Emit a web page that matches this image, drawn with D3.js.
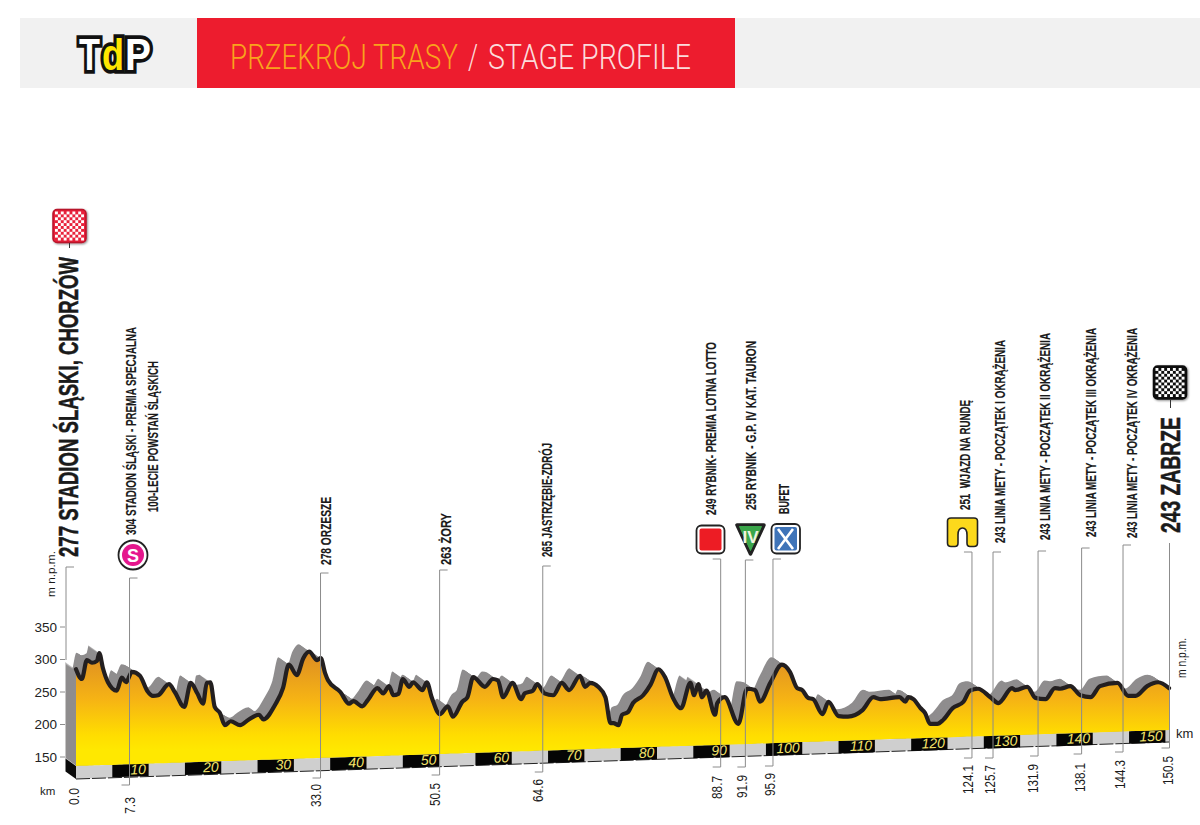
<!DOCTYPE html>
<html><head><meta charset="utf-8">
<script src="https://cdn.jsdelivr.net/npm/d3@7"></script>
<style>html,body{margin:0;padding:0;background:#fff}svg{display:block}</style>
</head><body><div id="c"></div>
<script>
const routeKm=[0,.8,1.5,2.2,2.9,3.2,3.7,4.4,5.6,6.3,6.9,7.7,8.8,9.8,10.6,11.3,12.8,13.6,14.9,15.8,16.7,17.5,18.0,18.5,19.1,19.8,20.5,21.3,22.6,23.7,25.2,25.8,27.4,28.5,29.3,30.4,31.3,32.1,33.2,33.7,34.3,
34.7,36.4,37.6,38.2,39.4,40.2,41.5,42.3,43.1,43.7,44.4,45.0,45.9,46.4,47.7,48.3,49.0,50.1,51.2,51.9,53.2,53.9,54.7,56.3,57.4,58.1,58.8,60.1,61.3,61.8,62.9,63.5,64.5,65.7,66.9,67.9,69.4,70.1,70.8,71.9,72.9,73.6,74.0,74.7,
75.2,76.0,76.7,78.1,79.1,80.2,81.1,82.2,83.3,84.6,85.1,85.7,86.2,86.8,88.0,88.3,89.3,91.2,92.4,93.5,94.2,95.6,97.2,98.3,99.3,100.0,100.8,101.5,102.8,103.6,105.0,106.3,108.3,109.8,110.7,113.4,
114.2,114.6,115.3,116.3,116.9,117.6,118.6,119.4,120.7,122.2,123.1,124.2,125.9,127.0,128.9,129.3,131.0,132.1,133.5,134.8,135.5,136.9,138.3,139.7,141.0,143.4,144.9,145.9,147.5,149.0,150.5];
const routeElevation=[285,270,299,295,298,310,287,265,252,272,265,281,275,252,244,245,262,250,227,264,248,232,264,265,227,218,199,205,199,207,215,208,230,256,292,276,302,312,299,302,279,
268,250,232,236,228,238,256,248,259,245,247,270,258,265,253,265,241,216,228,212,235,242,273,258,270,268,242,264,239,248,252,262,248,245,264,253,275,258,264,258,242,202,202,199,
215,219,233,245,261,285,273,241,225,264,245,262,242,252,215,233,242,201,255,253,235,264,292,281,256,253,241,239,216,235,213,212,222,242,239,242,
235,242,239,225,218,201,201,207,225,235,252,255,242,233,256,253,258,241,239,256,255,259,245,242,259,264,244,244,259,265,256];
const elevationTicks=[350,300,250,200,150];
const kmBoxes=[10,20,30,40,50,60,70,80,90,100,110,120,130,140,150];
const pointKmLabels=["0.0","7.3","33.0","50.5","64.6","88.7","91.9","95.9","124.1","125.7","131.9","138.1","144.3","150.5"];
const pointKmDrawn=[0,7.3,33.6,50,64.2,88.7,92.1,95.9,123.3,126.2,132.4,138.4,144.1,150.5];
const pointNames=["277 STADION ŚLĄSKI, CHORZÓW","304 STADION ŚLĄSKI - PREMIA SPECJALNA","278 ORZESZE","263 ŻORY","265 JASTRZĘBIE-ZDRÓJ","249 RYBNIK- PREMIA LOTNA LOTTO","255 RYBNIK - G.P. IV KAT. TAURON","BUFET","251  WJAZD NA RUNDĘ","243 LINIA METY - POCZĄTEK I OKRĄŻENIA","243 LINIA METY - POCZĄTEK II OKRĄŻENIA","243 LINIA METY - POCZĄTEK III OKRĄŻENIA","243 LINIA METY - POCZĄTEK IV OKRĄŻENIA","243 ZABRZE"];

// ---- layout (not data) ----
const W=1200,H=825;
const svg=d3.select("#c").append("svg").attr("width",W).attr("height",H).attr("viewBox",`0 0 ${W} ${H}`);
const x=d3.scaleLinear().domain([0,150.5]).range([76,1169]);
const y=d3.scaleLinear().domain([150,350]).range([757,627]);
const floor=d3.scaleLinear().domain([0,150.5]).range([766,730]);
const depthX=-10.5,depthY=-7.5,stripH=13;
const narrow="'Liberation Sans Narrow','Liberation Sans',sans-serif";
const sans="'Liberation Sans',Arial,sans-serif";
const route=routeKm.map((k,i)=>({k,e:routeElevation[i]}));

const defs=svg.append("defs");
const grad=defs.append("linearGradient").attr("id","fillG").attr("gradientUnits","userSpaceOnUse").attr("x1",0).attr("x2",0).attr("y1",650).attr("y2",750);
[[0,"#dc8a24"],[.5,"#f6b414"],[.85,"#ffdd00"],[1,"#ffe800"]].forEach(s=>grad.append("stop").attr("offset",s[0]).attr("stop-color",s[1]));
const blur=defs.append("filter").attr("id","sh").attr("x","-20%").attr("y","-20%").attr("width","140%").attr("height","140%");
blur.append("feDropShadow").attr("dx",1).attr("dy",1).attr("stdDeviation",1.2).attr("flood-color","#000").attr("flood-opacity",.45);

// header
svg.append("rect").attr("x",20).attr("y",18).attr("width",1180).attr("height",70).attr("fill","#f1f1f1");
svg.append("rect").attr("x",197).attr("y",18).attr("width",538).attr("height",70).attr("fill","#ed1c2e");
// text squeezed horizontally to a target width
function fit(t,xx,yy,target,attrs){
  const n=svg.append("text").text(t);
  Object.entries(attrs).forEach(([k,v])=>n.attr(k,v));
  const len=n.node().getComputedTextLength();
  n.attr("transform",`translate(${xx},${yy}) scale(${target/len},1)`);
  return n;
}
const hdrStyle={"font-family":"Roboto,sans-serif","font-weight":300,"font-size":35};
fit("PRZEKRÓJ TRASY",230,69,228,{...hdrStyle,fill:"#f9a31c"});
fit("/",468,69,10,{...hdrStyle,fill:"#fbdcdc"});
fit("STAGE PROFILE",488,69,203,{...hdrStyle,fill:"#fbdcdc"});
const logoStyle={"font-family":sans,"font-weight":700,"font-size":44,stroke:"#111","stroke-width":7.5,"stroke-linejoin":"miter","paint-order":"stroke"};
fit("T",79,70,21,{...logoStyle,fill:"#fff"});
fit("d",102,70,22,{...logoStyle,fill:"#ffe600"});
fit("P",125,70,26,{...logoStyle,fill:"#fff"});

// extruded rear of the profile
const curve=d3.curveMonotoneX;
const areaGen=d3.area().x(d=>x(d.k)).y0(d=>floor(d.k)).y1(d=>y(d.e)).curve(curve);
d3.range(0,1.01,.1).forEach(t=>{
  svg.append("path").datum(route).attr("d",areaGen).attr("fill","#8f8d8e")
    .attr("transform",`translate(${depthX*(1-t)},${depthY*(1-t)})`);
});
// left side of the floor strip
const x0=x(0),fl0=floor(0);
svg.append("path").attr("d",d3.line()([[x0+depthX,fl0+depthY],[x0,fl0],[x0,fl0+stripH],[x0+depthX,fl0+stripH+depthY]])+"Z").attr("fill","#0b0b0b");
// strip
const stripKm=[0,150.5];
svg.append("path").attr("d",d3.line()([[x(0),floor(0)],[x(150.5),floor(150.5)],[x(150.5),floor(150.5)+stripH-1],[x(0),floor(0)+stripH]])+"Z").attr("fill","#cfcfcf");
svg.append("path").attr("d",d3.line()(stripKm.map(k=>[x(k),floor(k)+stripH-(k?1:0)]))).attr("stroke","#222").attr("stroke-width",1).attr("stroke-dasharray","14 2").attr("fill","none");
kmBoxes.forEach(k=>{
  const a=k-5,b=k;
  svg.append("path").attr("d",d3.line()([[x(a),floor(a)],[x(b),floor(b)],[x(b),floor(b)+12.5],[x(a),floor(a)+12.5]])+"Z").attr("fill","#050505");
  svg.append("text").attr("transform",`translate(${x(b)-2.5},${floor(b)+10.5}) rotate(-1.9)`).attr("text-anchor","end")
    .attr("font-family",narrow).attr("font-style","italic").attr("font-size",14).attr("fill","#f4e36a").text(k);
});
// front
svg.append("path").datum(route).attr("d",areaGen).attr("fill","url(#fillG)");
svg.append("path").datum(route).attr("d",d3.line().x(d=>x(d.k)).y(d=>y(d.e)).curve(curve))
  .attr("fill","none").attr("stroke","#231f20").attr("stroke-width",4.2).attr("stroke-linejoin","round").attr("stroke-linecap","round");

// leaders
const leaderTop=[567,578,573,570,566,559,560,559,552,552,551,548,545,543];
const leaderBottom=[660,785,778,775,772,767,767,766,758,758,756,754,752,748];
const hookTop=[8,8,8,8,8,-8,8,8,-8,8,8,8,8,0];
pointKmDrawn.forEach((k,i)=>{
  const lx=(i==0?x(0)+depthX:x(k))+.5;
  const pts=[];
  if(hookTop[i]) pts.push([lx+hookTop[i],leaderTop[i]]);
  pts.push([lx,leaderTop[i]],[lx,leaderBottom[i]]);
  if(i>0) pts.push([lx-8,leaderBottom[i]]);
  svg.append("path").attr("d",d3.line()(pts)).attr("fill","none").attr("stroke","#8c8c8c").attr("stroke-width",1);
});
// y axis
elevationTicks.forEach(t=>{
  svg.append("path").attr("d",d3.line()([[60,y(t)],[65,y(t)]])).attr("stroke","#8c8c8c");
  svg.append("text").attr("x",57).attr("y",y(t)+4.5).attr("text-anchor","end").attr("font-family",sans).attr("font-size",13.5).attr("fill","#222").text(t);
});
const rot=(t,cx,bottom,len,size,weight,fam,sw)=>svg.append("text")
  .attr("transform",`translate(${cx},${bottom}) rotate(-90)`).attr("dy",".35em").attr("font-family",fam||narrow)
  .attr("font-size",size).attr("font-weight",weight||400).attr("fill","#1a1a1a")
  .attr("stroke",sw?"#1a1a1a":"none").attr("stroke-width",sw||0)
  .attr("textLength",len).attr("lengthAdjust","spacingAndGlyphs").attr("xml:space","preserve").text(t);
rot("m n.p.m.",51,597,46,11.5,400,sans);
rot("m n.p.m.",1182,678,40,12,400,sans);
svg.append("text").attr("x",40).attr("y",795).attr("font-family",sans).attr("font-size",11.5).attr("fill","#222").text("km");
svg.append("text").attr("x",1176).attr("y",738).attr("font-family",sans).attr("font-size",13).attr("fill","#222").text("km");

// km labels
const kmLabelX=[74,130,316,435,538,717,742,770,968,990,1033,1080,1120,1168];
const kmLabelBottom=[805,814,807,806,802,799,798,796,794,794,793,792,789,785];
pointKmLabels.forEach((t,i)=>rot(t,kmLabelX[i],kmLabelBottom[i],t.length>4?29:(t.length>3?23:17),14,400,narrow));

// place names
const nameX=[69,131,326,446,547,711,751,784,965,1000,1045,1091,1132,1171];
const nameBottom=[557,535,565,565,557,515,510,514,510,543,540,537,538,533];
const nameLen=[300,208,68,52,114,173,169,30,110,203,207,209,210,116];
const nameSize=[27,15.5,15.5,15.5,15.5,15.5,15.5,15.5,15.5,15.5,15.5,15.5,15.5,27];
pointNames.forEach((t,i)=>rot(t,nameX[i],nameBottom[i],nameLen[i],nameSize[i],700,narrow,nameSize[i]>20?.5:.15));
rot("100-LECIE POWSTAŃ ŚLĄSKICH",153,512,151,15.5,700,narrow,.15);

// icons
function checker(xx,yy,s,c1,c2,border){
  const g=svg.append("g");
  g.append("rect").attr("x",xx).attr("y",yy).attr("width",s).attr("height",s).attr("rx",4).attr("fill",c2).attr("stroke",border).attr("stroke-width",1.5).attr("filter","url(#sh)");
  const n=10,c=(s-4)/n;
  d3.range(n).forEach(a=>d3.range(n).forEach(b=>{ if((a+b)%2==0)
    g.append("rect").attr("x",xx+2+a*c).attr("y",yy+2+b*c).attr("width",c).attr("height",c).attr("fill",c1);}));
}
checker(53,209.5,33,"#fff","#e8203a","#b8142a");
checker(1153.5,366,33,"#fff","#111","#111");
svg.append("path").attr("d","M69.5 243V248M1170.5 399V408").attr("stroke","#333");
// S
svg.append("circle").attr("cx",133).attr("cy",555).attr("r",14.5).attr("fill","#fff").attr("stroke","#222").attr("stroke-width",1.8);
svg.append("circle").attr("cx",133).attr("cy",555).attr("r",11).attr("fill","#e5178d");
svg.append("text").attr("x",133).attr("y",561.5).attr("text-anchor","middle").attr("font-family",sans).attr("font-weight",700).attr("font-size",18).attr("fill","#fff").text("S");
// red square
svg.append("rect").attr("x",696.5).attr("y",525.5).attr("width",28).attr("height",28).attr("rx",5).attr("fill","#fff").attr("stroke","#222").attr("stroke-width",1.8);
svg.append("rect").attr("x",699.5).attr("y",528.5).attr("width",22).attr("height",22).attr("rx",2).attr("fill","#ed1c24");
// green triangle
svg.append("path").attr("d","M737 525H764L750.5 554Z").attr("fill","#fff").attr("stroke","#222").attr("stroke-width",3.5).attr("stroke-linejoin","round");
svg.append("path").attr("d","M739.5 526.5H761.5L750.5 550.5Z").attr("fill","#3aa64a").attr("stroke","#3aa64a").attr("stroke-linejoin","round");
svg.append("text").attr("x",750.5).attr("y",543).attr("text-anchor","middle").attr("font-family",narrow).attr("font-weight",700).attr("font-size",17).attr("fill","#f3f3e0").text("IV");
// feed zone
svg.append("rect").attr("x",771.5).attr("y",524).attr("width",28.5).attr("height",29.5).attr("rx",5).attr("fill","#fff").attr("stroke","#222").attr("stroke-width",1.8);
svg.append("rect").attr("x",774.5).attr("y",527).attr("width",22.5).attr("height",23.5).attr("rx",2).attr("fill","#3f74b8");
svg.append("path").attr("d","M778 529L793 549M793 529L778 549").attr("stroke","#fff").attr("stroke-width",2.6);
// omega
svg.append("path").attr("d","M951 518H974Q977.5 518 977.5 521V543Q977.5 546.5 974 546.5H970Q967 546.5 967 543V535Q967 528 962.5 528Q958 528 958 535V543Q958 546.5 955 546.5H951Q947.5 546.5 947.5 543V521Q947.5 518 951 518Z")
  .attr("fill","#fcd91c").attr("stroke","#222").attr("stroke-width",1.6);
</script></body></html>
